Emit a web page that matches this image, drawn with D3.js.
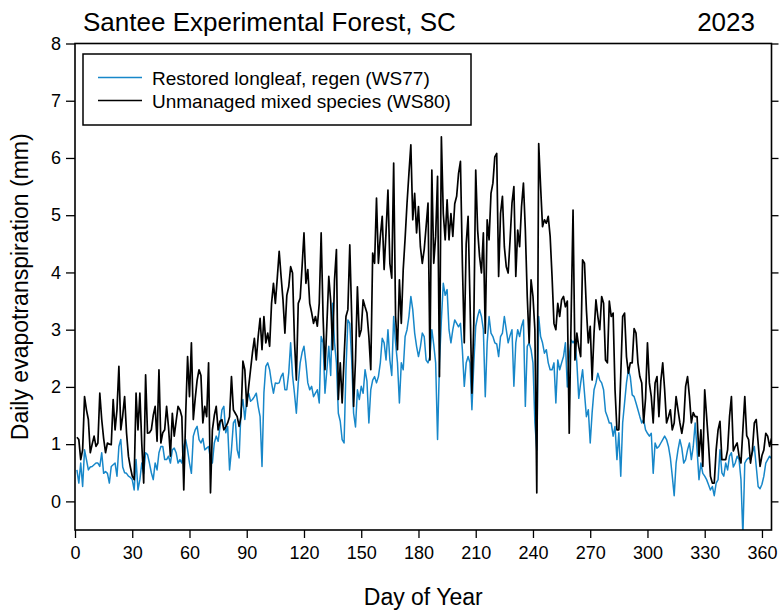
<!DOCTYPE html>
<html>
<head>
<meta charset="utf-8">
<script src="https://cdn.jsdelivr.net/npm/d3@7"></script>
<style>
  html, body { margin: 0; padding: 0; background: #fff; }
  svg { display: block; font-family: "Liberation Sans", Arial, sans-serif; }
</style>
</head>
<body>
<svg id="chart" width="780" height="610"></svg>
<script>
// ---- data (daily ET, mm; day 1..365) ----
const titleText = "Santee Experimental Forest, SC";
const yearText = "2023";
const seriesNames = ["Restored longleaf, regen (WS77)", "Unmanaged mixed species (WS80)"];
const xTicks = [0, 30, 60, 90, 120, 150, 180, 210, 240, 270, 300, 330, 360];
const yTicks = [0, 1, 2, 3, 4, 5, 6, 7, 8];

const ws77 = [
0.55,0.32,0.67,0.26,0.9,0.73,0.55,0.6,0.61,0.64,
0.67,0.67,0.61,0.85,0.49,0.52,0.49,0.32,0.61,0.64,
0.67,0.44,0.96,1.08,0.6,0.5,0.49,0.44,0.42,0.38,
0.2,0.73,0.2,0.38,0.67,0.49,0.85,0.82,0.67,0.5,
0.38,0.67,0.55,0.85,0.96,0.96,0.73,0.73,0.79,0.67,
0.9,0.93,0.85,0.67,0.73,0.67,0.96,1.08,0.9,0.67,
0.49,1.14,1.25,1.31,1.08,1.02,1.1,0.9,0.93,0.96,
0.73,0.67,1.02,1.14,1.05,1.31,1.6,1.66,1.2,1.31,
0.55,0.9,1.37,1.43,0.9,0.76,1.6,1.78,1.43,1.78,
1.89,1.75,1.78,1.83,1.89,1.66,1.48,0.61,1.9,2.36,
2.42,2.3,2.07,1.89,2.07,2.06,2.07,2.18,2.24,1.95,
1.95,2.24,2.77,2.2,1.89,1.54,2.07,2.42,2.6,2.71,
2.42,2.07,1.95,2.01,1.83,1.89,1.95,1.72,2.88,2.77,
1.89,2.3,2.71,2.2,3.46,2.77,2.42,1.54,1.4,1.08,
1.02,2.3,3.17,3.11,2.47,1.54,1.3,1.95,1.78,2.01,
1.89,2.3,2.1,1.37,1.95,2.12,2.18,2.07,2.18,2.42,
2.85,2.77,2.47,3.0,2.47,2.2,3.23,2.77,2.42,1.72,
2.42,2.3,2.88,3.0,3.23,3.58,3.35,2.94,2.71,2.53,
2.7,2.94,2.88,2.47,2.42,2.53,3.0,2.74,2.42,1.08,
2.42,3.17,3.81,3.6,3.7,3.0,2.77,3.0,3.17,3.11,
3.05,3.11,2.65,2.01,2.42,2.53,2.42,1.6,2.42,3.06,
3.23,3.35,3.23,3.0,1.83,2.77,3.23,2.94,2.88,2.77,
2.75,2.53,2.88,2.94,3.23,3.0,2.77,2.9,3.0,2.01,
2.77,3.0,2.88,3.06,3.17,1.66,2.71,2.77,2.65,2.42,
1.37,0.9,3.23,2.88,2.77,2.59,2.65,2.42,2.3,2.3,
2.42,1.72,2.47,2.3,2.42,2.53,2.77,2.0,2.53,2.82,
2.77,2.82,2.42,1.8,2.07,2.3,1.89,1.48,1.6,1.02,
1.55,1.95,2.07,2.24,2.12,2.07,1.95,1.57,1.48,1.37,
1.37,1.14,1.31,0.73,1.2,0.44,1.37,1.72,2.07,2.3,
2.18,1.86,1.83,1.72,1.6,1.48,1.37,1.43,1.25,1.19,
1.14,1.19,0.49,1.02,0.93,0.96,1.02,1.08,1.14,1.08,
0.96,0.76,0.44,0.1,0.67,0.9,1.08,0.93,0.67,0.73,
0.9,1.02,0.73,0.96,1.37,0.9,0.38,0.67,0.49,0.44,
0.38,0.29,0.2,0.26,0.1,0.32,0.38,0.9,0.5,0.44,
0.67,0.55,0.79,0.85,0.6,0.67,0.79,0.73,0.38,-0.6,
0.67,0.73,0.76,0.73,0.85,0.96,0.61,0.26,0.22,0.3,
0.44,0.67,0.73,0.79,0.75
];

const ws80 = [
1.12,1.08,0.73,0.9,1.83,1.6,1.43,0.85,1.0,1.14,
0.96,1.02,1.89,1.43,1.1,0.85,1.02,1.0,0.99,1.78,
1.25,1.6,2.36,1.25,1.5,1.83,1.2,0.79,0.6,0.44,
0.38,1.89,1.25,1.89,1.0,0.32,2.21,1.19,1.2,1.25,
1.5,1.66,1.05,2.3,1.02,1.2,1.25,1.66,1.3,0.79,
1.54,1.14,1.4,1.66,1.6,1.48,0.2,1.5,2.53,1.83,
2.77,1.43,1.8,2.12,2.3,2.2,1.37,1.66,1.48,2.42,
0.15,1.25,1.5,1.66,1.25,1.4,1.43,1.25,1.3,1.37,
1.48,2.18,1.6,1.54,1.48,1.31,1.48,2.45,2.3,1.66,
2.0,2.3,2.6,2.85,2.47,2.88,3.2,2.65,3.23,2.77,
2.94,2.71,3.46,3.81,3.46,3.9,4.37,3.93,3.52,2.94,
3.6,3.75,4.1,3.99,2.82,2.12,3.46,3.55,4.1,4.69,
3.81,4.05,3.46,3.3,3.11,3.23,3.06,3.46,4.69,3.23,
2.3,3.1,3.93,3.5,2.65,3.87,4.4,1.78,2.42,1.72,
2.5,3.23,3.35,4.48,3.23,1.66,2.47,3.75,2.88,3.0,
3.52,3.4,3.29,2.88,2.3,4.34,4.16,5.3,4.16,4.63,
4.98,4.05,4.7,5.44,4.16,3.9,5.91,3.23,2.65,3.87,
3.11,4.05,4.6,5.21,5.73,6.23,4.92,5.38,4.69,5.15,
4.45,4.16,4.4,4.8,5.21,2.47,5.79,4.16,4.63,5.68,
2.18,6.37,5.03,4.57,5.27,4.57,5.03,4.63,5.2,5.33,
5.73,5.94,4.16,2.77,4.5,4.98,3.5,1.89,3.11,5.79,
4.74,4.28,3.99,4.69,2.94,4.92,4.57,5.38,5.56,6.02,
6.08,3.93,5.03,5.33,4.45,4.1,3.99,4.57,5.21,5.5,
3.93,4.74,4.45,5.15,5.56,4.74,3.58,2.77,3.87,3.58,
3.0,0.15,6.25,5.5,4.8,4.92,4.86,4.98,4.63,3.93,
3.11,3.0,3.46,3.23,3.52,3.58,3.4,3.5,1.19,3.23,
5.09,2.47,2.94,2.7,2.53,4.22,4.16,3.35,2.77,3.06,
2.12,2.94,3.52,3.23,3.0,3.58,3.46,2.47,2.42,3.5,
3.23,3.29,1.95,1.25,1.25,2.2,3.23,3.29,2.53,2.24,
2.42,2.42,3.02,2.94,2.42,2.18,2.07,1.37,1.8,2.77,
2.07,1.83,1.37,2.07,2.18,1.48,2.1,2.42,1.95,1.37,
1.48,1.6,1.25,1.37,1.83,1.6,1.37,1.19,1.4,2.01,
2.18,1.83,1.37,1.55,1.48,1.48,0.79,1.25,0.61,1.95,
1.48,1.0,0.44,0.32,0.32,0.9,1.25,1.4,0.73,0.73,
0.73,0.9,1.48,1.83,0.88,0.96,1.02,0.79,0.67,1.25,
1.83,1.15,1.08,0.67,0.9,1.37,1.43,1.02,0.61,0.8,
0.9,1.19,1.14,0.96,1.1
];

const seriesColors = ["#1787c9", "#000000"];
const seriesWidths = [1.5, 1.7];

// ---- layout ----
const svg = d3.select("#chart");
const L = 75, R = 771.5, T = 43.5, B = 530;
const x = d3.scaleLinear().domain([0, 365]).range([L, R]);
const y = d3.scaleLinear().domain([-0.5, 8]).range([B, T]);
const font = '"Liberation Sans", Arial, sans-serif';

svg.append("defs").append("clipPath").attr("id", "plotClip")
  .append("rect").attr("x", L).attr("y", T).attr("width", R - L).attr("height", B - T);

// series
const line = d3.line().x((d, i) => x(i + 1)).y(d => y(d));
const gLines = svg.append("g").attr("clip-path", "url(#plotClip)");
[ws77, ws80].forEach((s, k) => {
  gLines.append("path").datum(s)
    .attr("fill", "none")
    .attr("stroke", seriesColors[k])
    .attr("stroke-width", seriesWidths[k])
    .attr("stroke-linejoin", "round")
    .attr("d", line);
});

// axes
const axL = d3.axisLeft(y).tickValues(yTicks).tickSize(9).tickPadding(5).tickFormat(d3.format("d"));
const gL = svg.append("g").attr("transform", `translate(${L},0)`).call(axL);
gL.select(".domain").remove();
gL.selectAll("text").attr("font-size", 18).attr("font-family", font).attr("fill", "#000");
gL.selectAll("line").attr("stroke", "#000").attr("stroke-width", 1.3);

const axR = d3.axisRight(y).tickValues(yTicks).tickSize(7).tickFormat("");
const gR = svg.append("g").attr("transform", `translate(${R},0)`).call(axR);
gR.select(".domain").remove();
gR.selectAll("line").attr("stroke", "#000").attr("stroke-width", 1.3);

const axB = d3.axisBottom(x).tickValues(xTicks).tickSize(8).tickPadding(8).tickFormat(d3.format("d"));
const gB = svg.append("g").attr("transform", `translate(0,${B})`).call(axB);
gB.select(".domain").remove();
gB.selectAll("text").attr("font-size", 18).attr("font-family", font).attr("fill", "#000");
gB.selectAll("line").attr("stroke", "#000").attr("stroke-width", 1.3);

// frame
svg.append("rect").attr("x", L).attr("y", T).attr("width", R - L).attr("height", B - T)
  .attr("fill", "none").attr("stroke", "#000").attr("stroke-width", 1.6);

// titles
svg.append("text").attr("x", 83).attr("y", 31).attr("font-size", 26).attr("font-family", font)
  .text(titleText);
svg.append("text").attr("x", 755).attr("y", 31).attr("text-anchor", "end").attr("font-size", 26)
  .attr("font-family", font).text(yearText);
svg.append("text").attr("x", (L + R) / 2).attr("y", 605).attr("text-anchor", "middle")
  .attr("font-size", 23).attr("font-family", font).text("Day of Year");
svg.append("text").attr("transform", `translate(28,${(T + B) / 2}) rotate(-90)`)
  .attr("text-anchor", "middle").attr("font-size", 23).attr("font-family", font)
  .text("Daily evapotranspiration (mm)");

// legend
const lg = svg.append("g");
lg.append("rect").attr("x", 83).attr("y", 54).attr("width", 388).attr("height", 71)
  .attr("fill", "#fff").attr("stroke", "#000").attr("stroke-width", 1.5);
seriesNames.forEach((name, k) => {
  const yy = 77.5 + k * 23;
  lg.append("line").attr("x1", 98).attr("x2", 142).attr("y1", yy).attr("y2", yy)
    .attr("stroke", seriesColors[k]).attr("stroke-width", 1.5);
  lg.append("text").attr("x", 152).attr("y", yy + 7).attr("font-size", 19)
    .attr("font-family", font).text(name);
});
</script>
</body>
</html>
